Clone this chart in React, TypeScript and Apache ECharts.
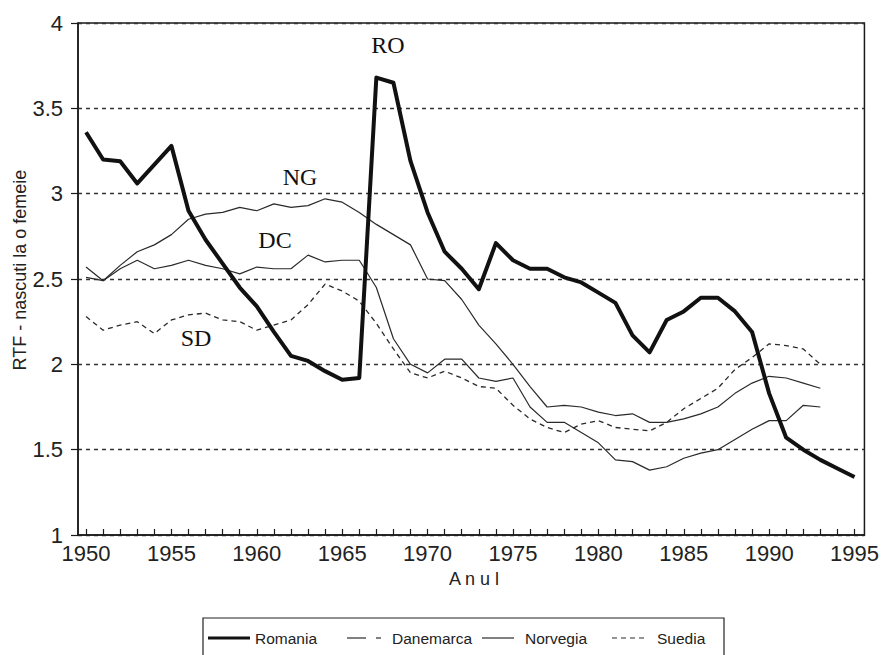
import React, { useEffect, useRef } from 'react';
import * as echarts from 'echarts';

const years = [
  1950, 1951, 1952, 1953, 1954, 1955, 1956, 1957, 1958, 1959,
  1960, 1961, 1962, 1963, 1964, 1965, 1966, 1967, 1968, 1969,
  1970, 1971, 1972, 1973, 1974, 1975, 1976, 1977, 1978, 1979,
  1980, 1981, 1982, 1983, 1984, 1985, 1986, 1987, 1988, 1989,
  1990, 1991, 1992, 1993, 1994, 1995,
];
const xTickLabels = [1950, 1955, 1960, 1965, 1970, 1975, 1980, 1985, 1990, 1995];

const romania = [
  3.36, 3.2, 3.19, 3.06, 3.17, 3.28, 2.9, 2.73, 2.59, 2.45,
  2.34, 2.19, 2.05, 2.02, 1.96, 1.91, 1.92, 3.68, 3.65, 3.19,
  2.89, 2.66, 2.56, 2.44, 2.71, 2.61, 2.56, 2.56, 2.51, 2.48,
  2.42, 2.36, 2.17, 2.07, 2.26, 2.31, 2.39, 2.39, 2.31, 2.19,
  1.83, 1.57, 1.5, 1.44, 1.39, 1.34,
];
const danemarca = [
  2.57, 2.49, 2.56, 2.61, 2.56, 2.58, 2.61, 2.58, 2.56, 2.53,
  2.57, 2.56, 2.56, 2.64, 2.6, 2.61, 2.61, 2.45, 2.15, 2.0,
  1.95, 2.03, 2.03, 1.92, 1.9, 1.92, 1.75, 1.66, 1.66, 1.6,
  1.54, 1.44, 1.43, 1.38, 1.4, 1.45, 1.48, 1.5, 1.56, 1.62,
  1.67, 1.67, 1.76, 1.75,
];
const norvegia = [
  2.51, 2.49, 2.58, 2.66, 2.7, 2.76, 2.85, 2.88, 2.89, 2.92,
  2.9, 2.94, 2.92, 2.93, 2.97, 2.95, 2.89, 2.82, 2.76, 2.7,
  2.5, 2.49, 2.38, 2.23, 2.12, 2.0, 1.87, 1.75, 1.76, 1.75,
  1.72, 1.7, 1.71, 1.66, 1.66, 1.68, 1.71, 1.75, 1.83, 1.89,
  1.93, 1.92, 1.89, 1.86,
];
const suedia = [
  2.28, 2.2, 2.23, 2.25, 2.18, 2.26, 2.29, 2.3, 2.26, 2.25,
  2.2, 2.23, 2.26, 2.35, 2.47, 2.43, 2.37, 2.24, 2.09, 1.95,
  1.92, 1.96, 1.92, 1.87, 1.86, 1.76, 1.68, 1.63, 1.6, 1.65,
  1.67, 1.63, 1.62, 1.61, 1.66, 1.74, 1.8, 1.86, 1.97, 2.04,
  2.12, 2.11, 2.09, 2.0,
];

const pairs = (vals: number[]) => vals.map((v, i) => [years[i], v]);

const NARROW = "'Liberation Sans Narrow', 'Arial Narrow', 'Liberation Sans', sans-serif";
const SANS = "'Liberation Sans', Arial, sans-serif";
const SERIF = "'Liberation Serif', 'Times New Roman', serif";

export default function App() {
  const ref = useRef<HTMLDivElement>(null);
  useEffect(() => {
    const chart = echarts.init(ref.current!, undefined, { renderer: 'svg' });
    const ink = '#1a1a1a';
    const thin = '#2a2a2a';
    const option: any = {
      animation: false,
      backgroundColor: '#fff',
      grid: {
        left: 78,
        right: 14,
        top: 23,
        bottom: 120,
        show: true,
        borderColor: ink,
        borderWidth: 1.5,
        backgroundColor: 'transparent',
      },
      xAxis: {
        type: 'value',
        min: 1949.53,
        max: 1995.58,
        axisLine: { show: true, onZero: false, lineStyle: { color: ink, width: 1.5 } },
        axisTick: {
          show: true,
          inside: true,
          length: 6,
          customValues: years,
          lineStyle: { color: ink, width: 1.2 },
        },
        axisLabel: {
          customValues: xTickLabels,
          formatter: (v: number) => String(v),
          fontFamily: NARROW,
          fontSize: 22,
          color: '#222',
          margin: 7,
        },
        splitLine: { show: false },
      },
      yAxis: {
        type: 'value',
        min: 1,
        max: 4,
        interval: 0.5,
        axisLine: { show: true, lineStyle: { color: ink, width: 1.5 } },
        axisTick: { show: true, inside: false, length: 7, lineStyle: { color: ink, width: 1.2 } },
        axisLabel: {
          fontFamily: NARROW,
          fontSize: 22,
          color: '#222',
          margin: 15,
        },
        splitLine: {
          show: true,
          lineStyle: { color: '#333', width: 1.3, type: [4, 4] },
        },
      },
      series: [
        {
          name: 'Romania',
          type: 'line',
          data: pairs(romania),
          showSymbol: false,
          symbol: 'none',
          lineStyle: { color: '#111', width: 4, join: 'round' },
          z: 5,
        },
        {
          name: 'Danemarca',
          type: 'line',
          data: pairs(danemarca),
          showSymbol: false,
          symbol: 'none',
          lineStyle: { color: thin, width: 1.2 },
        },
        {
          name: 'Norvegia',
          type: 'line',
          data: pairs(norvegia),
          showSymbol: false,
          symbol: 'none',
          lineStyle: { color: thin, width: 1.2 },
        },
        {
          name: 'Suedia',
          type: 'line',
          data: pairs(suedia),
          showSymbol: false,
          symbol: 'none',
          lineStyle: { color: thin, width: 1.3, type: [5, 4] },
        },
      ],
      graphic: [
        // annotations
        { type: 'text', left: undefined, x: 388, y: 45, style: { text: 'RO', font: `24px ${SERIF}`, fill: '#111', align: 'center', verticalAlign: 'middle' } },
        { type: 'text', x: 300, y: 177, style: { text: 'NG', font: `24px ${SERIF}`, fill: '#111', align: 'center', verticalAlign: 'middle' } },
        { type: 'text', x: 275, y: 240, style: { text: 'DC', font: `24px ${SERIF}`, fill: '#111', align: 'center', verticalAlign: 'middle' } },
        { type: 'text', x: 196, y: 338, style: { text: 'SD', font: `24px ${SERIF}`, fill: '#111', align: 'center', verticalAlign: 'middle' } },
        // axis names
        {
          type: 'text', x: 20, y: 270, rotation: Math.PI / 2,
          style: { text: 'RTF - nascuti la o femeie', font: `18px ${SANS}`, fill: '#222', align: 'center', verticalAlign: 'middle' },
        },
        {
          type: 'text', x: 474, y: 579,
          style: { text: 'A n u l', font: `18px ${SANS}`, fill: '#222', align: 'center', verticalAlign: 'middle' },
        },
        // legend
        { type: 'rect', shape: { x: 203, y: 618, width: 521, height: 45 }, style: { fill: 'none', stroke: '#222', lineWidth: 1.2 } },
        { type: 'line', shape: { x1: 208, y1: 638, x2: 250, y2: 638 }, style: { stroke: '#111', lineWidth: 3 } },
        { type: 'text', x: 255, y: 638, style: { text: 'Romania', font: `15.5px ${SANS}`, fill: '#222', verticalAlign: 'middle' } },
        { type: 'line', shape: { x1: 347, y1: 638, x2: 366, y2: 638 }, style: { stroke: thin, lineWidth: 1.2 } },
        { type: 'line', shape: { x1: 376, y1: 638, x2: 381, y2: 638 }, style: { stroke: thin, lineWidth: 1.2 } },
        { type: 'text', x: 392, y: 638, style: { text: 'Danemarca', font: `15.5px ${SANS}`, fill: '#222', verticalAlign: 'middle' } },
        { type: 'line', shape: { x1: 482, y1: 638, x2: 514, y2: 638 }, style: { stroke: thin, lineWidth: 1.2 } },
        { type: 'text', x: 525, y: 638, style: { text: 'Norvegia', font: `15.5px ${SANS}`, fill: '#222', verticalAlign: 'middle' } },
        { type: 'line', shape: { x1: 612, y1: 638, x2: 646, y2: 638 }, style: { stroke: thin, lineWidth: 1.2, lineDash: [5, 4] } },
        { type: 'text', x: 657, y: 638, style: { text: 'Suedia', font: `15.5px ${SANS}`, fill: '#222', verticalAlign: 'middle' } },
      ],
    };
    chart.setOption(option);
    return () => chart.dispose();
  }, []);
  return (
    <div
      ref={ref}
      style={{ position: 'fixed', left: 0, top: 0, width: 882, height: 655, background: '#fff' }}
    />
  );
}
